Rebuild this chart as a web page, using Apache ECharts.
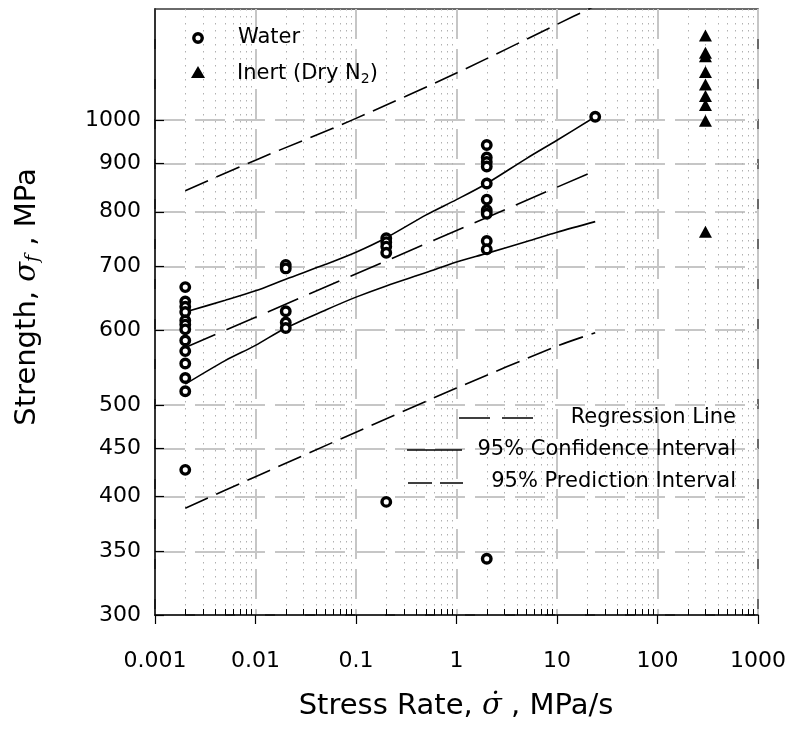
<!DOCTYPE html>
<html>
<head>
<meta charset="utf-8">
<script src="https://cdn.jsdelivr.net/npm/echarts@6/dist/echarts.min.js"></script>
<style>
  html, body { margin: 0; background: #fff; }
  #chart { width: 792px; height: 735px; }
</style>
</head>
<body>
<div id="chart"></div>
<script>
// axis ticks
const xTicks = [0.001, 0.01, 0.1, 1, 10, 100, 1000];
const xMinorTicks = [
  0.002, 0.003, 0.004, 0.005, 0.006, 0.007, 0.008, 0.009,
  0.02, 0.03, 0.04, 0.05, 0.06, 0.07, 0.08, 0.09,
  0.2, 0.3, 0.4, 0.5, 0.6, 0.7, 0.8, 0.9,
  2, 3, 4, 5, 6, 7, 8, 9,
  20, 30, 40, 50, 60, 70, 80, 90,
  200, 300, 400, 500, 600, 700, 800, 900
];
const yTicks = [300, 350, 400, 450, 500, 600, 700, 800, 900, 1000];

// water tests: one strength list per stress rate
const waterRates = [0.002, 0.02, 0.2, 2, 24];
const waterStrengths = [
  [666, 643, 635, 627, 614, 608, 601, 585, 570, 553, 534, 517, 427],
  [703, 697, 628, 611, 603],
  [750, 743, 735, 724, 395],
  [941, 913, 903, 893, 857, 824, 803, 796, 745, 730, 344],
  [1008]
];

// inert (dry N2)
const inertRate = 300;
const inertStrengths = [1228, 1178, 1168, 1124, 1090, 1060, 1037, 998, 762];

// regression + intervals
const regRates = [0.002, 24];
const regStrength = [575, 884];
const ciRates = [0.002, 0.005, 0.01, 0.02, 0.05, 0.1, 0.2, 0.5, 1, 2, 5, 10, 24];
const ciUpper = [627, 645, 660, 679, 704, 725, 751, 794, 824, 857, 911, 952, 1008];
const ciLower = [526, 557, 578, 603, 630, 650, 668, 690, 708, 723, 744, 761, 781];
const piRates = [0.002, 0.01, 0.1, 1, 10, 24];
const piUpper = [842, 907, 1004, 1121, 1262, 1320];
const piLower = [389, 420, 468, 521, 577, 596];

const FONT = 'DejaVu Sans';
const SERIF = 'DejaVu Serif';

const pair = (xs, ys) => xs.map((x, i) => [x, ys[i]]);
const waterData = waterRates.flatMap((r, i) => waterStrengths[i].map((s) => [r, s]));
const inertData = inertStrengths.map((s) => [inertRate, s]);

const majorGrid = { show: true, lineStyle: { color: '#c6c6c6', width: 2, type: [30, 10] } };
const curve = (name, xs, ys, dash) => ({
  name,
  type: 'line',
  data: pair(xs, ys),
  symbol: 'none',
  smooth: 0.3,
  z: 3,
  lineStyle: { color: '#000', width: 1.6, type: dash || 'solid' },
});

const chart = echarts.init(document.getElementById('chart'));
chart.setOption({
  animation: false,
  grid: {
    left: 155, top: 9, width: 603, height: 606,
    show: true, borderColor: '#3a3a3a', borderWidth: 1.5,
  },
  xAxis: [
    {
      type: 'log', logBase: 10, min: 0.001, max: 1000, position: 'bottom',
      axisLine: { onZero: false, lineStyle: { color: '#000', width: 1.5 } },
      axisTick: { inside: false, length: 9, customValues: xTicks, lineStyle: { color: '#000', width: 1.2 } },
      axisLabel: {
        customValues: xTicks, formatter: (v) => String(v), margin: 35,
        color: '#000', fontFamily: FONT, fontSize: 22,
      },
      splitLine: majorGrid,
    },
    {
      type: 'log', logBase: 10, min: 0.001, max: 1000, position: 'bottom',
      axisLine: { show: false },
      axisTick: { inside: true, length: 6, customValues: xMinorTicks, lineStyle: { color: '#000', width: 1 } },
      axisLabel: { show: false },
      splitLine: { show: true, lineStyle: { color: '#b0b0b0', width: 1, type: [1.5, 5.5] } },
    },
  ],
  yAxis: {
    type: 'log', logBase: 10, min: 300, max: 1310,
    axisLine: { show: true, lineStyle: { color: '#000', width: 1.5 } },
    axisTick: { inside: true, length: 9, customValues: yTicks, lineStyle: { color: '#000', width: 1.2 } },
    axisLabel: {
      customValues: yTicks, formatter: (v) => String(v), margin: 14,
      color: '#000', fontFamily: FONT, fontSize: 22,
    },
    splitLine: majorGrid,
  },
  series: [
    curve('Regression Line', regRates, regStrength, [33, 12]),
    curve('CI upper', ciRates, ciUpper),
    curve('CI lower', ciRates, ciLower),
    curve('PI upper', piRates, piUpper, [25, 9]),
    curve('PI lower', piRates, piLower, [25, 9]),
    {
      name: 'Water', type: 'scatter', data: waterData, z: 5,
      symbol: 'circle', symbolSize: 8.5,
      itemStyle: { color: '#fff', borderColor: '#000', borderWidth: 3.4, opacity: 1 },
    },
    {
      name: 'Inert (Dry N2)', type: 'scatter', data: inertData, z: 5,
      symbol: 'triangle', symbolSize: [13, 12],
      itemStyle: { color: '#000', opacity: 1 },
    },
  ],
  graphic: [
    // top-left legend
    { type: 'circle', shape: { cx: 198, cy: 38, r: 4.2 }, style: { fill: '#fff', stroke: '#000', lineWidth: 3.4 }, z: 10 },
    { type: 'text', x: 238, y: 38, z: 10,
      style: { text: 'Water', fill: '#000', fontFamily: FONT, fontSize: 21, align: 'left', verticalAlign: 'middle' } },
    { type: 'polygon', shape: { points: [[191, 78], [205, 78], [198, 66]] }, style: { fill: '#000' }, z: 10 },
    { type: 'text', x: 237, y: 74, z: 10,
      style: {
        text: '{a|Inert (Dry N}{s|2}{a|)}', align: 'left', verticalAlign: 'middle',
        rich: {
          a: { fill: '#000', fontFamily: FONT, fontSize: 21 },
          s: { fill: '#000', fontFamily: FONT, fontSize: 14, padding: [10, 0, 0, 0] },
        },
      } },
    // bottom-right legend
    { type: 'line', shape: { x1: 459, y1: 418, x2: 533, y2: 418 }, style: { stroke: '#000', lineWidth: 1.6, lineDash: [31, 12] }, z: 10 },
    { type: 'text', x: 736, y: 418, z: 10,
      style: { text: 'Regression Line', fill: '#000', fontFamily: FONT, fontSize: 21, align: 'right', verticalAlign: 'middle' } },
    { type: 'line', shape: { x1: 407, y1: 450, x2: 462, y2: 450 }, style: { stroke: '#000', lineWidth: 1.6 }, z: 10 },
    { type: 'text', x: 736, y: 450, z: 10,
      style: { text: '95% Confidence Interval', fill: '#000', fontFamily: FONT, fontSize: 21, align: 'right', verticalAlign: 'middle' } },
    { type: 'line', shape: { x1: 408, y1: 483, x2: 463, y2: 483 }, style: { stroke: '#000', lineWidth: 1.6, lineDash: [24, 8] }, z: 10 },
    { type: 'text', x: 736, y: 482, z: 10,
      style: { text: '95% Prediction Interval', fill: '#000', fontFamily: FONT, fontSize: 21, align: 'right', verticalAlign: 'middle' } },
    // axis titles
    { type: 'text', x: 456, y: 706,
      style: {
        text: '{a|Stress Rate, }{m|\u03c3\u0307}{a| , MPa/s}', align: 'center', verticalAlign: 'middle',
        rich: {
          a: { fill: '#000', fontFamily: FONT, fontSize: 29 },
          m: { fill: '#000', fontFamily: SERIF, fontStyle: 'italic', fontSize: 29 },
        },
      } },
    { type: 'text', x: 27, y: 297, rotation: Math.PI / 2,
      style: {
        text: '{a|Strength, }{m|\u03c3}{s|f}{a| , MPa}', align: 'center', verticalAlign: 'middle',
        rich: {
          a: { fill: '#000', fontFamily: FONT, fontSize: 29 },
          m: { fill: '#000', fontFamily: SERIF, fontStyle: 'italic', fontSize: 29 },
          s: { fill: '#000', fontFamily: SERIF, fontStyle: 'italic', fontSize: 19, padding: [12, 0, 0, 0] },
        },
      } },
  ],
});
</script>
</body>
</html>
